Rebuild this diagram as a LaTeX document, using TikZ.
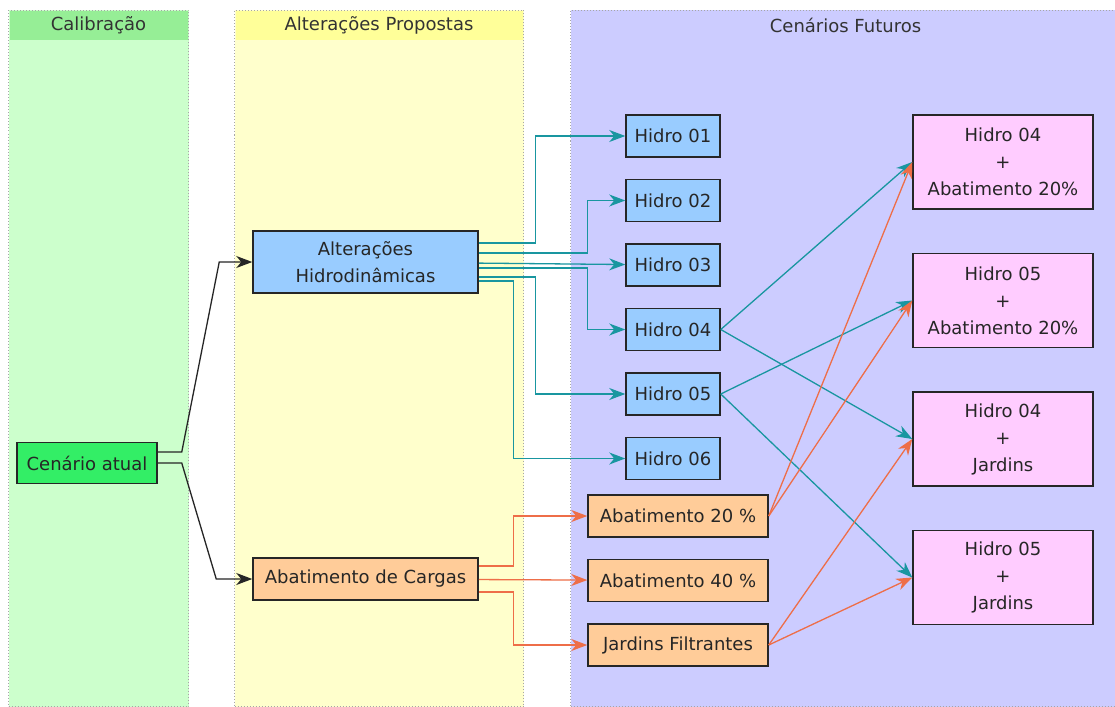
\documentclass[tikz,border=0pt]{standalone}
\usepackage{fontspec}
\setmainfont{DejaVu Sans}
\usetikzlibrary{arrows.meta,positioning,calc}
\definecolor{cTeal}{RGB}{25,150,160}
\definecolor{cOrange}{RGB}{238,110,72}
\definecolor{calHead}{RGB}{150,238,150}
\definecolor{calBody}{RGB}{204,255,204}
\definecolor{altHead}{RGB}{255,255,153}
\definecolor{altBody}{RGB}{255,255,204}
\definecolor{futBody}{RGB}{204,204,255}
\definecolor{hBlue}{RGB}{153,204,255}
\definecolor{aOrange}{RGB}{255,204,153}
\definecolor{pPink}{RGB}{255,204,255}
\definecolor{aGreen}{RGB}{51,238,102}
\tikzstyle{tline} = [draw, -{Stealth[length=16pt,width=12pt,inset=5pt]}, line width=1.3pt, cTeal]
\tikzstyle{oline} = [draw, -{Stealth[length=16pt,width=12pt,inset=5pt]}, line width=1.3pt, cOrange]
\tikzstyle{bline} = [draw, -{Stealth[length=16pt,width=12pt,inset=5pt]}, line width=1.3pt, black!85]

\begin{document}
\begin{tikzpicture}[
    x=1pt, y=-1pt,
    lane/.style={
      draw=gray!70,
      dotted,
      line width=1pt,
      anchor=north west,
      inner sep=0pt,
      minimum height=696pt,
    },
    lanehead/.style={
      anchor=north,
      inner sep=0pt,
      minimum height=29pt,
      font=\fontsize{18}{22}\selectfont,
      text=black!80,
    },
    box/.style={
      draw=black!85,
      line width=1.5pt,
      minimum height=42pt,
      inner sep=0pt,
      align=center,
      font=\fontsize{18}{27}\selectfont,
      text=black!85,
    },
    hbox/.style={box, fill=hBlue, minimum width=94pt},
    abox/.style={box, fill=aOrange, minimum width=180pt},
    pbox/.style={box, fill=pPink, minimum width=180pt, minimum height=94pt},
  ]

  \useasboundingbox[fill=white] (0,0) rectangle (1115,706);

  % lanes
  \node[lane,fill=calBody,minimum width=180pt] (calib) at (8,10) {};
  \node[lanehead,fill=calHead,minimum width=178pt] (calibh) at ([yshift=-1pt]calib.north) {Calibração};
  \node[lane,fill=altBody,minimum width=289pt] (prop) at (234,10) {};
  \node[lanehead,fill=altHead,minimum width=287pt] (proph) at ([yshift=-1pt]prop.north) {Alterações Propostas};
  \node[lane,fill=futBody,minimum width=550pt] (fut) at (570,10) {};
  \node[lanehead,minimum width=548pt] (futh) at ([yshift=-1pt]fut.north) {Cenários Futuros};

  % nodes
  \node[box,fill=aGreen,minimum width=140pt,minimum height=41pt] (atual) at (87,463) {Cenário atual};
  \node[box,fill=hBlue,minimum width=225pt,minimum height=62pt] (alt) at (365.5,262) {Alterações\\Hidrodinâmicas};
  \node[box,fill=aOrange,minimum width=225pt] (carg) at (365.5,579) {Abatimento de Cargas};

  \node[hbox] (h1) at (673,136) {Hidro 01};
  \node[hbox,below=21pt of h1] (h2) {Hidro 02};
  \node[hbox,below=21pt of h2] (h3) {Hidro 03};
  \node[hbox,below=21pt of h3] (h4) {Hidro 04};
  \node[hbox,below=21pt of h4] (h5) {Hidro 05};
  \node[hbox,below=21pt of h5] (h6) {Hidro 06};

  \node[abox] (a20) at (678,516) {Abatimento 20 \%};
  \node[abox,below=21pt of a20] (a40) {Abatimento 40 \%};
  \node[abox,below=21pt of a40] (jf) {Jardins Filtrantes};

  \node[pbox] (p1) at (1003,162) {Hidro 04\\+\\Abatimento 20\%};
  \node[pbox,below=43pt of p1] (p2) {Hidro 05\\+\\Abatimento 20\%};
  \node[pbox,below=43pt of p2] (p3) {Hidro 04\\+\\Jardins};
  \node[pbox,below=43pt of p3] (p4) {Hidro 05\\+\\Jardins};

  % calibration
  \draw[bline] ([yshift=11pt]atual.east) -- ++(24,0) -- ($(alt.west)+(-33,0)$) -- (alt);
  \draw[bline] (atual.east) -- ++(24,0) -- ($(carg.west)+(-36,0)$) -- (carg);

  % hydrodynamics
  \draw[tline] ([yshift=19pt]alt.east) -- ++(57,0) |- (h1);
  \draw[tline] ([yshift=9pt]alt.east) -- ++(109,0) |- (h2);
  \draw[tline] (alt) -- (h3);
  \draw[tline] ([yshift=-6pt]alt.east) -- ++(109,0) |- (h4);
  \draw[tline] ([yshift=-15pt]alt.east) -- ++(57,0) |- (h5);
  \draw[tline] ([yshift=-19pt]alt.east) -- ++(35,0) |- (h6);

  % loads
  \draw[oline] ([yshift=13pt]carg.east) -- ++(35,0) |- (a20);
  \draw[oline] (carg) -- (a40);
  \draw[oline] ([yshift=-13pt]carg.east) -- ++(35,0) |- (jf);

  % combinations
  \draw[tline] (h4.east) -- (p1.west);
  \draw[tline] (h4.east) -- (p3.west);
  \draw[tline] (h5.east) -- (p2.west);
  \draw[tline] (h5.east) -- (p4.west);
  \draw[oline] (a20.east) -- (p1.west);
  \draw[oline] (a20.east) -- (p2.west);
  \draw[oline] (jf.east) -- (p3.west);
  \draw[oline] (jf.east) -- (p4.west);

\end{tikzpicture}
\end{document}
